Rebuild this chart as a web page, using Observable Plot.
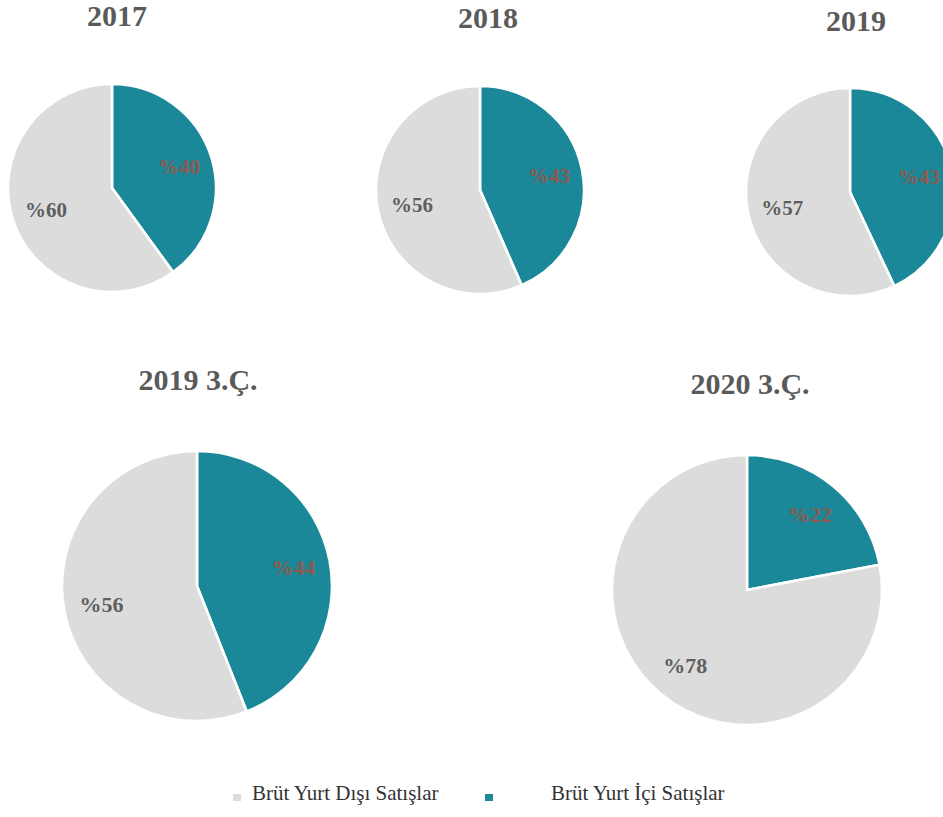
<!DOCTYPE html>
<html>
<head>
<meta charset="utf-8">
<script src="https://cdn.jsdelivr.net/npm/d3@7"></script>
<script src="https://cdn.jsdelivr.net/npm/@observablehq/plot@0.6"></script>
<style>
  html, body { margin: 0; padding: 0; background: #fff; width: 943px; height: 817px; overflow: hidden; }
  #root { position: relative; width: 943px; height: 817px; overflow: hidden; font-family: "Liberation Serif", Tinos, "Times New Roman", "DejaVu Serif", serif; }
  .title { position: absolute; font-weight: bold; font-size: 30px; color: #5a5a5a; transform: translateX(-50%); white-space: nowrap; line-height: 1; }
  .pie { position: absolute; }
  .legend { position: absolute; font-size: 21px; color: #333; white-space: nowrap; line-height: 1; }
  .sw { position: absolute; width: 8px; height: 7px; }
</style>
</head>
<body>
<div id="root"></div>
<script>
// ---- data ----
const periods = ["2017", "2018", "2019", "2019 3.Ç.", "2020 3.Ç."];
const seriesNames = ["Brüt Yurt Dışı Satışlar", "Brüt Yurt İçi Satışlar"];
const exportShare = [60, 56, 57, 56, 78];      // Brüt Yurt Dışı Satışlar (%)
const domesticShare = [40, 43, 43, 44, 22];    // Brüt Yurt İçi Satışlar (%)
const exportLabels = ["%60", "%56", "%57", "%56", "%78"];
const domesticLabels = ["%40", "%43", "%43", "%44", "%22"];
const seriesColors = ["#dcdcdc", "#1b889a"];
const labelColors = ["#5e5e5e", "#8c5a4e"];

// ---- layout (positions of each small chart) ----
const layout = [
  {cx: 112, cy: 188, r: 103, tx: 117, ty: 1,   fs: 21, lr: 0.68},
  {cx: 480, cy: 190, r: 103, tx: 488, ty: 3,   fs: 21, lr: 0.68},
  {cx: 850, cy: 192, r: 103, tx: 856, ty: 6,   fs: 21, lr: 0.68},
  {cx: 197, cy: 586, r: 134, tx: 198, ty: 365, fs: 22, lr: 0.73},
  {cx: 747, cy: 590, r: 134, tx: 750, ty: 369, fs: 22, lr: 0.73}
];

const FONT = '"Liberation Serif", Tinos, "Times New Roman", "DejaVu Serif", serif';
const root = document.getElementById("root");

function sliceMark(slices) {
  return function (...args) {
    const scales = args.find(a => a && !Array.isArray(a) && typeof a.x === "function");
    const cx = scales.x(0), cy = scales.y(0), R = scales.x(1) - cx;
    const arc = d3.arc().innerRadius(0).outerRadius(R + 1);
    const g = d3.create("svg:g").attr("transform", `translate(${cx},${cy})`);
    g.selectAll("path").data(slices).join("path")
      .attr("d", arc)
      .attr("fill", d => d.data.color)
      .attr("stroke", "#fff")
      .attr("stroke-width", 2.6)
      .attr("stroke-linejoin", "miter");
    return g.node();
  };
}

periods.forEach((p, i) => {
  const L = layout[i];
  const rows = [
    {series: seriesNames[1], value: domesticShare[i], label: domesticLabels[i], color: seriesColors[1], lc: labelColors[1]},
    {series: seriesNames[0], value: exportShare[i], label: exportLabels[i], color: seriesColors[0], lc: labelColors[0]}
  ];
  const slices = d3.pie().sort(null).value(d => d.value)(rows);
  const labels = slices.map(s => {
    const a = (s.startAngle + s.endAngle) / 2;
    return {x: L.lr * Math.sin(a), y: L.lr * Math.cos(a), text: s.data.label, lc: s.data.lc};
  });
  const m = 6;
  const size = 2 * L.r + 2 * m;
  const chart = Plot.plot({
    width: size,
    height: size,
    margin: 0,
    style: {fontFamily: FONT, background: "transparent", overflow: "visible"},
    x: {domain: [-1, 1], range: [m, m + 2 * L.r], axis: null},
    y: {domain: [-1, 1], range: [m + 2 * L.r, m], axis: null},
    marks: [
      sliceMark(slices),
      Plot.text(labels, {
        x: "x", y: "y", text: "text", fill: d => d.lc,
        fontSize: L.fs, fontWeight: "bold",
        fontFamily: FONT
      })
    ]
  });
  chart.classList.add("pie");
  chart.style.left = (L.cx - L.r - m) + "px";
  chart.style.top = (L.cy - L.r - m) + "px";
  root.appendChild(chart);

  const t = document.createElement("div");
  t.className = "title";
  t.textContent = p;
  t.style.left = L.tx + "px";
  t.style.top = L.ty + "px";
  root.appendChild(t);
});

// ---- legend ----
const legendItems = [
  {name: seriesNames[0], color: seriesColors[0], sx: 233, tx: 252},
  {name: seriesNames[1], color: seriesColors[1], sx: 485, tx: 551}
];
legendItems.forEach(it => {
  const s = document.createElement("div");
  s.className = "sw";
  s.style.left = it.sx + "px";
  s.style.top = "794px";
  s.style.background = it.color;
  root.appendChild(s);
  const t = document.createElement("div");
  t.className = "legend";
  t.textContent = it.name;
  t.style.left = it.tx + "px";
  t.style.top = "783px";
  root.appendChild(t);
});
</script>
</body>
</html>
